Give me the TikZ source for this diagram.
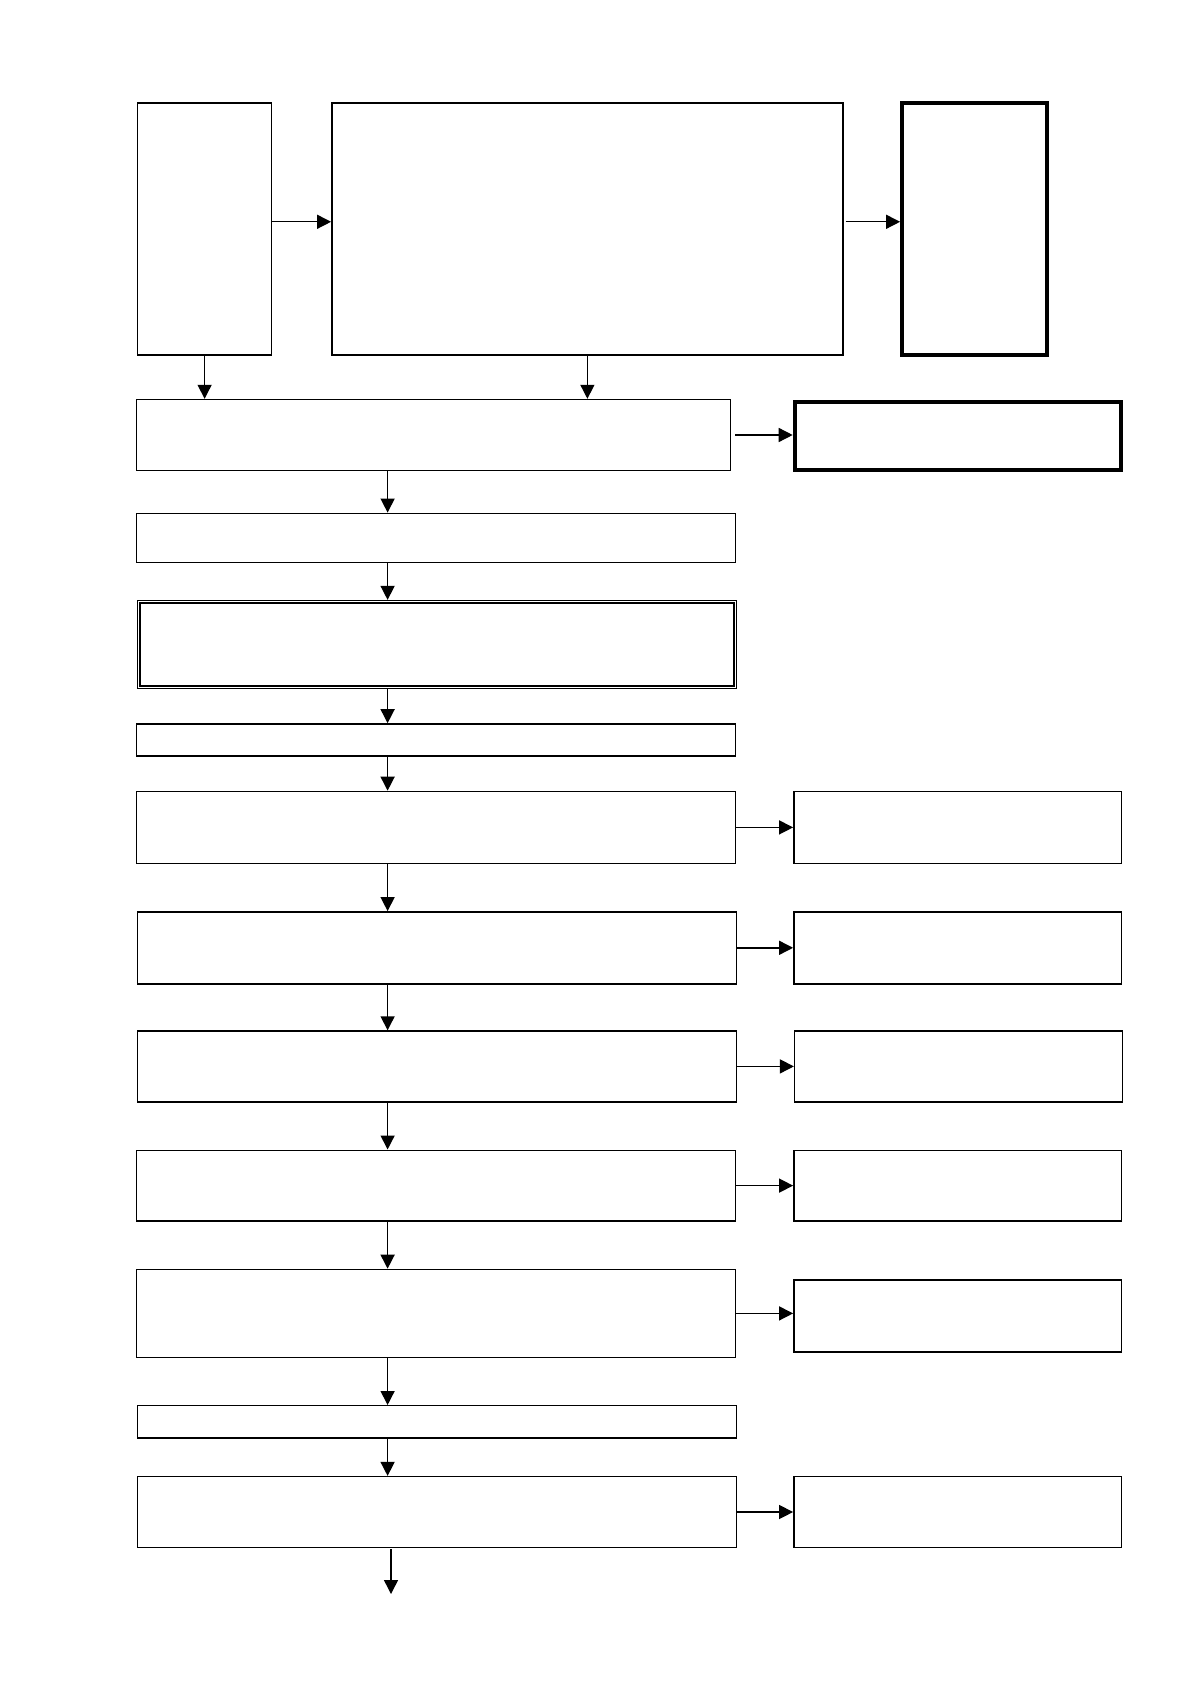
\documentclass[tikz,border=0pt]{standalone}
\usetikzlibrary{arrows.meta}
\tikzset{
  caja/.style n args={2}{draw=black, line width=0.7pt, inner sep=0pt, minimum width=#1, minimum height=#2},
  gruesa/.style n args={2}{caja={#1}{#2}, line width=2pt},
  flecha/.style={-{Triangle[length=7pt,width=7pt]}, line width=0.7pt}
}
\begin{document}
\begin{tikzpicture}[x=1pt,y=-1pt]
\useasboundingbox (0,0) rectangle (595.5,842);

% Fila superior
\node[caja={67pt}{126pt}] (izq) at (102.3,114.6) {};
\node[caja={255.6pt}{126pt}] (centro) at (293.7,114.6) {};
\node[gruesa={72.5pt}{126pt}] (der) at (487.3,114.6) {};
\draw[flecha] ([yshift=3.7pt]izq.east) -- ([yshift=3.7pt]centro.west);
\draw[flecha] ([yshift=3.7pt,xshift=1pt]centro.east) -- ([yshift=3.7pt]der.west);

% Columna principal
\coordinate (eje) at (193.8,0);
\node[caja={297pt}{35.5pt}] (p1) at (216.7,217.5) {};
\node[caja={299.6pt}{24.7pt}] (p2) at (218,269) {};
\node[caja={299.6pt}{44pt}, line width=0.5pt] (p3) at (218.5,322.2) {};
\draw[line width=1.2pt] ([shift={(1.6pt,-1.6pt)}]p3.north west) rectangle ([shift={(-1.6pt,1.6pt)}]p3.south east);
\node[caja={299.6pt}{16.1pt}] (p4) at (218,370) {};
\node[caja={299.6pt}{36pt}] (p5) at (218,413.7) {};
\node[caja={299.6pt}{36pt}] (p6) at (218.5,473.9) {};
\node[caja={299.6pt}{35.4pt}] (p7) at (218.5,533.2) {};
\node[caja={299.6pt}{35.4pt}] (p8) at (218,592.8) {};
\node[caja={299.6pt}{44pt}] (p9) at (218,656.7) {};
\node[caja={299.6pt}{16.1pt}] (p10) at (218.5,710.9) {};
\node[caja={299.6pt}{35.4pt}] (p11) at (218.5,756) {};

% Columna derecha
\node[gruesa={163.3pt}{34.4pt}] (r1) at (479,218) {};
\node[caja={163.8pt}{36pt}] (r2) at (478.8,413.7) {};
\node[caja={163.8pt}{36pt}] (r3) at (478.8,473.9) {};
\node[caja={163.8pt}{35.4pt}] (r4) at (479.2,533.2) {};
\node[caja={163.8pt}{35.4pt}] (r5) at (478.8,592.8) {};
\node[caja={163.8pt}{36pt}] (r6) at (478.8,658) {};
\node[caja={163.8pt}{35.4pt}] (r7) at (478.8,756) {};

% Flechas
\draw[flecha] (izq.south) -- (izq.south |- p1.north);
\draw[flecha] (centro.south) -- (centro.south |- p1.north);
\foreach \a/\b in {p1/p2,p2/p3,p3/p4,p4/p5,p5/p6,p6/p7,p7/p8,p8/p9,p9/p10,p10/p11}
  \draw[flecha] (\a.south -| eje) -- (\b.north -| eje);
\draw[flecha] ([xshift=2pt]p1.east) -- (p1.east -| r1.west);
\foreach \a/\b in {p5/r2,p6/r3,p7/r4,p8/r5,p9/r6,p11/r7}
  \draw[flecha] (\a.east) -- (\a.east -| \b.west);
\coordinate (fin) at (195.5,797);
\draw[flecha] ([yshift=-0.6pt]p11.south -| fin) -- (fin);
\end{tikzpicture}
\end{document}
